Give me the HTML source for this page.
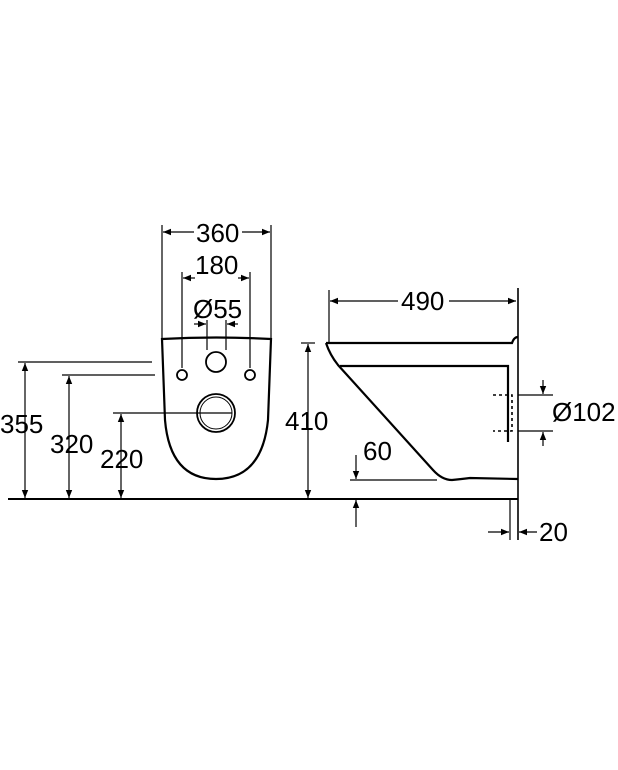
<!DOCTYPE html>
<html><head><meta charset="utf-8"><style>
html,body{margin:0;padding:0;background:#fff;}
svg{display:block;}
text{font-family:"Liberation Sans",sans-serif;font-size:26px;fill:#000;}
</style></head><body>
<svg width="618" height="770" viewBox="0 0 618 770" xmlns="http://www.w3.org/2000/svg">
<defs>
<marker id="a" viewBox="0 0 10 10" refX="10" refY="5" markerWidth="12" markerHeight="8" markerUnits="userSpaceOnUse" orient="auto-start-reverse"><path d="M0,1 L10,5 L0,9 z" fill="#000"/></marker>
</defs>
<g stroke="#000" fill="none" stroke-width="1.2">
<line x1="8" y1="499" x2="518" y2="499" stroke-width="2"/>
<path d="M162,339 Q216,336 271,339 L268,420 Q262,479 216,479 Q170,479 165,420 Z" stroke-width="2.2"/>
<circle cx="182" cy="375" r="5" stroke-width="1.8"/>
<circle cx="250" cy="375" r="5" stroke-width="1.8"/>
<circle cx="216" cy="362" r="10" stroke-width="1.8"/>
<circle cx="216" cy="413" r="19" stroke-width="1.8"/>
<circle cx="216" cy="413" r="16" stroke-width="1"/>
<line x1="162" y1="225" x2="162" y2="339"/>
<line x1="271" y1="225" x2="271" y2="339"/>
<line x1="163" y1="232" x2="194" y2="232" marker-start="url(#a)"/>
<line x1="242" y1="232" x2="270" y2="232" marker-end="url(#a)"/>
<line x1="182" y1="272" x2="182" y2="368"/>
<line x1="250" y1="272" x2="250" y2="368"/>
<line x1="183" y1="278" x2="195" y2="278" marker-start="url(#a)"/>
<line x1="238" y1="278" x2="249" y2="278" marker-end="url(#a)"/>
<line x1="207" y1="320" x2="207" y2="350"/>
<line x1="226" y1="320" x2="226" y2="350"/>
<line x1="194" y1="324" x2="206" y2="324" marker-end="url(#a)"/>
<line x1="238" y1="324" x2="227" y2="324" marker-end="url(#a)"/>
<line x1="18" y1="362" x2="152" y2="362"/>
<line x1="25" y1="363" x2="25" y2="498" marker-start="url(#a)" marker-end="url(#a)"/>
<line x1="62" y1="375" x2="155" y2="375"/>
<line x1="69" y1="376" x2="69" y2="498" marker-start="url(#a)" marker-end="url(#a)"/>
<line x1="113" y1="413" x2="232" y2="413"/>
<line x1="121" y1="414" x2="121" y2="498" marker-start="url(#a)" marker-end="url(#a)"/>
<line x1="518" y1="288" x2="518" y2="540" stroke-width="1.6"/>
<line x1="510" y1="499" x2="510" y2="540"/>
<path d="M326,343 L512,343 Q514,337 518,337" stroke-width="2.2"/>
<path d="M326,343 Q330,355 338,365 L433,470 Q442,480 452,480 Q462,479 470,478 L518,479" stroke-width="2.2"/>
<path d="M340,366 L508,366 L508,442" stroke-width="2.2"/>
<path d="M493,395 L512,395 L512,431 L493,431" stroke-dasharray="3,3" stroke-width="1.6"/>
<line x1="329" y1="290" x2="329" y2="342"/>
<line x1="330" y1="301" x2="398" y2="301" marker-start="url(#a)"/>
<line x1="449" y1="301" x2="516" y2="301" marker-end="url(#a)"/>
<line x1="301" y1="343" x2="315" y2="343"/>
<line x1="308" y1="344" x2="308" y2="498" marker-start="url(#a)" marker-end="url(#a)"/>
<line x1="350" y1="480" x2="437" y2="480"/>
<line x1="356" y1="455" x2="356" y2="479" marker-end="url(#a)"/>
<line x1="356" y1="527" x2="356" y2="500" marker-end="url(#a)"/>
<line x1="518" y1="395" x2="553" y2="395"/>
<line x1="518" y1="431" x2="553" y2="431"/>
<line x1="543" y1="380" x2="543" y2="394" marker-end="url(#a)"/>
<line x1="543" y1="446" x2="543" y2="432" marker-end="url(#a)"/>
<line x1="488" y1="532" x2="509" y2="532" marker-end="url(#a)"/>
<line x1="537" y1="532" x2="519" y2="532" marker-end="url(#a)"/>
</g>
<text x="196" y="242">360</text>
<text x="195" y="274">180</text>
<text x="193" y="318">Ø55</text>
<text x="0" y="433">355</text>
<text x="50" y="453">320</text>
<text x="100" y="468">220</text>
<text x="285" y="430">410</text>
<text x="401" y="310">490</text>
<text x="363" y="460">60</text>
<text x="552" y="421">Ø102</text>
<text x="539" y="541">20</text>
</svg>
</body></html>
